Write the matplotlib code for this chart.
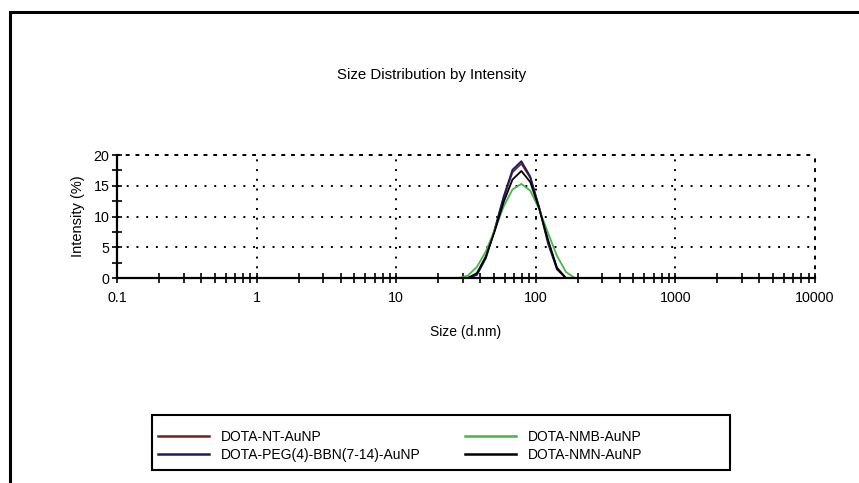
import matplotlib
matplotlib.use("Agg")
import matplotlib.pyplot as plt
from matplotlib.patches import Rectangle
from matplotlib.ticker import FixedLocator, LogLocator, NullFormatter

plt.rcParams.update({
    "font.family": ["Liberation Sans Narrow", "Liberation Sans", "DejaVu Sans"],
})

## parameters
fs_title = 10.8
fs0 = 10.3
fs_lab = 10.0
fs_leg = 10.0
lw0 = 1.3

col_nt = "#7a1c1c"
col_peg = "#1c1c66"
col_nmb = "#44b844"
col_nmn = "black"

##--------------- data ---------------##

# size classes (d.nm)
size_nt = [32.67, 37.84, 43.82, 50.75, 58.77, 68.06, 78.82, 91.28, 105.7, 122.4, 141.8, 164.2]
size_peg = [32.67, 37.84, 43.82, 50.75, 58.77, 68.06, 78.82, 91.28, 105.7, 122.4, 141.8, 164.2]
size_nmb = [28.21, 32.67, 37.84, 43.82, 50.75, 58.77, 68.06, 78.82, 91.28, 105.7, 122.4, 141.8, 164.2, 190.1]
size_nmn = [32.67, 37.84, 43.82, 50.75, 58.77, 68.06, 78.82, 91.28, 105.7, 122.4, 141.8, 164.2]

# intensity (%)
int_nt = [0.0, 0.6, 3.3, 7.8, 13.0, 17.2, 18.6, 16.3, 11.5, 5.9, 1.7, 0.0]
int_peg = [0.0, 0.5, 3.2, 7.9, 13.2, 17.6, 19.0, 16.5, 11.4, 5.6, 1.4, 0.0]
int_nmb = [0.0, 0.4, 1.8, 4.3, 7.8, 11.6, 14.4, 15.3, 14.2, 11.2, 7.3, 3.6, 1.0, 0.0]
int_nmn = [0.0, 0.8, 3.5, 7.6, 12.3, 16.0, 17.4, 15.6, 11.3, 6.2, 1.6, 0.0]

labels = ["DOTA-NT-AuNP", "DOTA-PEG(4)-BBN(7-14)-AuNP", "DOTA-NMB-AuNP", "DOTA-NMN-AuNP"]

x_ticks = [0.1, 1, 10, 100, 1000, 10000]
x_ticklabels = ["0.1", "1", "10", "100", "1000", "10000"]
y_ticks = [0, 5, 10, 15, 20]

##--------------- plot ---------------##

W, H = 859, 483
fig = plt.figure(figsize=(W / 100, H / 100), dpi=100)
ax = fig.add_axes([117 / W, 1 - 278 / H, 698 / W, 123 / H])

# outer frame of the report panel
fig.patches.append(Rectangle((10 / W, -0.2), 1.2, 1.2 - 12 / H,
                             transform=fig.transFigure, fill=False,
                             edgecolor="black", lw=2.2, zorder=0))

l1, = ax.plot(size_nt, int_nt, color=col_nt, lw=lw0)
l2, = ax.plot(size_peg, int_peg, color=col_peg, lw=lw0)
l3, = ax.plot(size_nmb, int_nmb, color=col_nmb, lw=lw0)
l4, = ax.plot(size_nmn, int_nmn, color=col_nmn, lw=lw0)

ax.set_xscale("log")
ax.set_xlim(0.1, 10000)
ax.set_ylim(0, 20)
ax.xaxis.set_major_locator(FixedLocator(x_ticks))
ax.set_xticklabels(x_ticklabels)
ax.xaxis.set_minor_locator(LogLocator(base=10, subs=range(2, 10)))
ax.xaxis.set_minor_formatter(NullFormatter())
ax.set_yticks(y_ticks)
ax.yaxis.set_minor_locator(FixedLocator([2.5, 7.5, 12.5, 17.5]))

ax.tick_params(which="both", direction="inout", length=7, width=1.2, labelsize=fs0)
ax.tick_params(axis="x", pad=5.5)
ax.tick_params(axis="y", pad=2)
ax.tick_params(which="both", top=False, right=False)

dots = (0, (1, 4))
ax.grid(which="major", color="black", linestyle=dots, lw=1.4)
for side in ["top", "right"]:
    ax.spines[side].set_linestyle(dots)
    ax.spines[side].set_linewidth(1.4)
for side in ["left", "bottom"]:
    ax.spines[side].set_linewidth(1.6)

fig.text(432 / W, 1 - 75 / H, "Size Distribution by Intensity", fontsize=fs_title,
         ha="center", va="center")
ax.set_xlabel("Size (d.nm)", fontsize=fs_lab, labelpad=15)
ax.set_ylabel("Intensity (%)", fontsize=10.5, labelpad=6)

# legend: box drawn separately, two columns placed inside it
fig.patches.append(Rectangle((152 / W, 1 - 470 / H), 578 / W, 55 / H,
                             transform=fig.transFigure, fill=False,
                             edgecolor="black", lw=1.5))
leg_kw = dict(fontsize=fs_leg, frameon=False, loc="upper left", borderpad=0,
              handlelength=3.7, handletextpad=0.85, labelspacing=0.3,
              borderaxespad=0)
leg1 = fig.legend([l1, l2], labels[:2], bbox_to_anchor=(158 / W, 1 - 430 / H), **leg_kw)
leg2 = fig.legend([l3, l4], labels[2:], bbox_to_anchor=(465 / W, 1 - 430 / H), **leg_kw)
for leg in (leg1, leg2):
    for h in leg.legend_handles:
        h.set_linewidth(1.8)

fig.savefig("out.png", dpi=100)
